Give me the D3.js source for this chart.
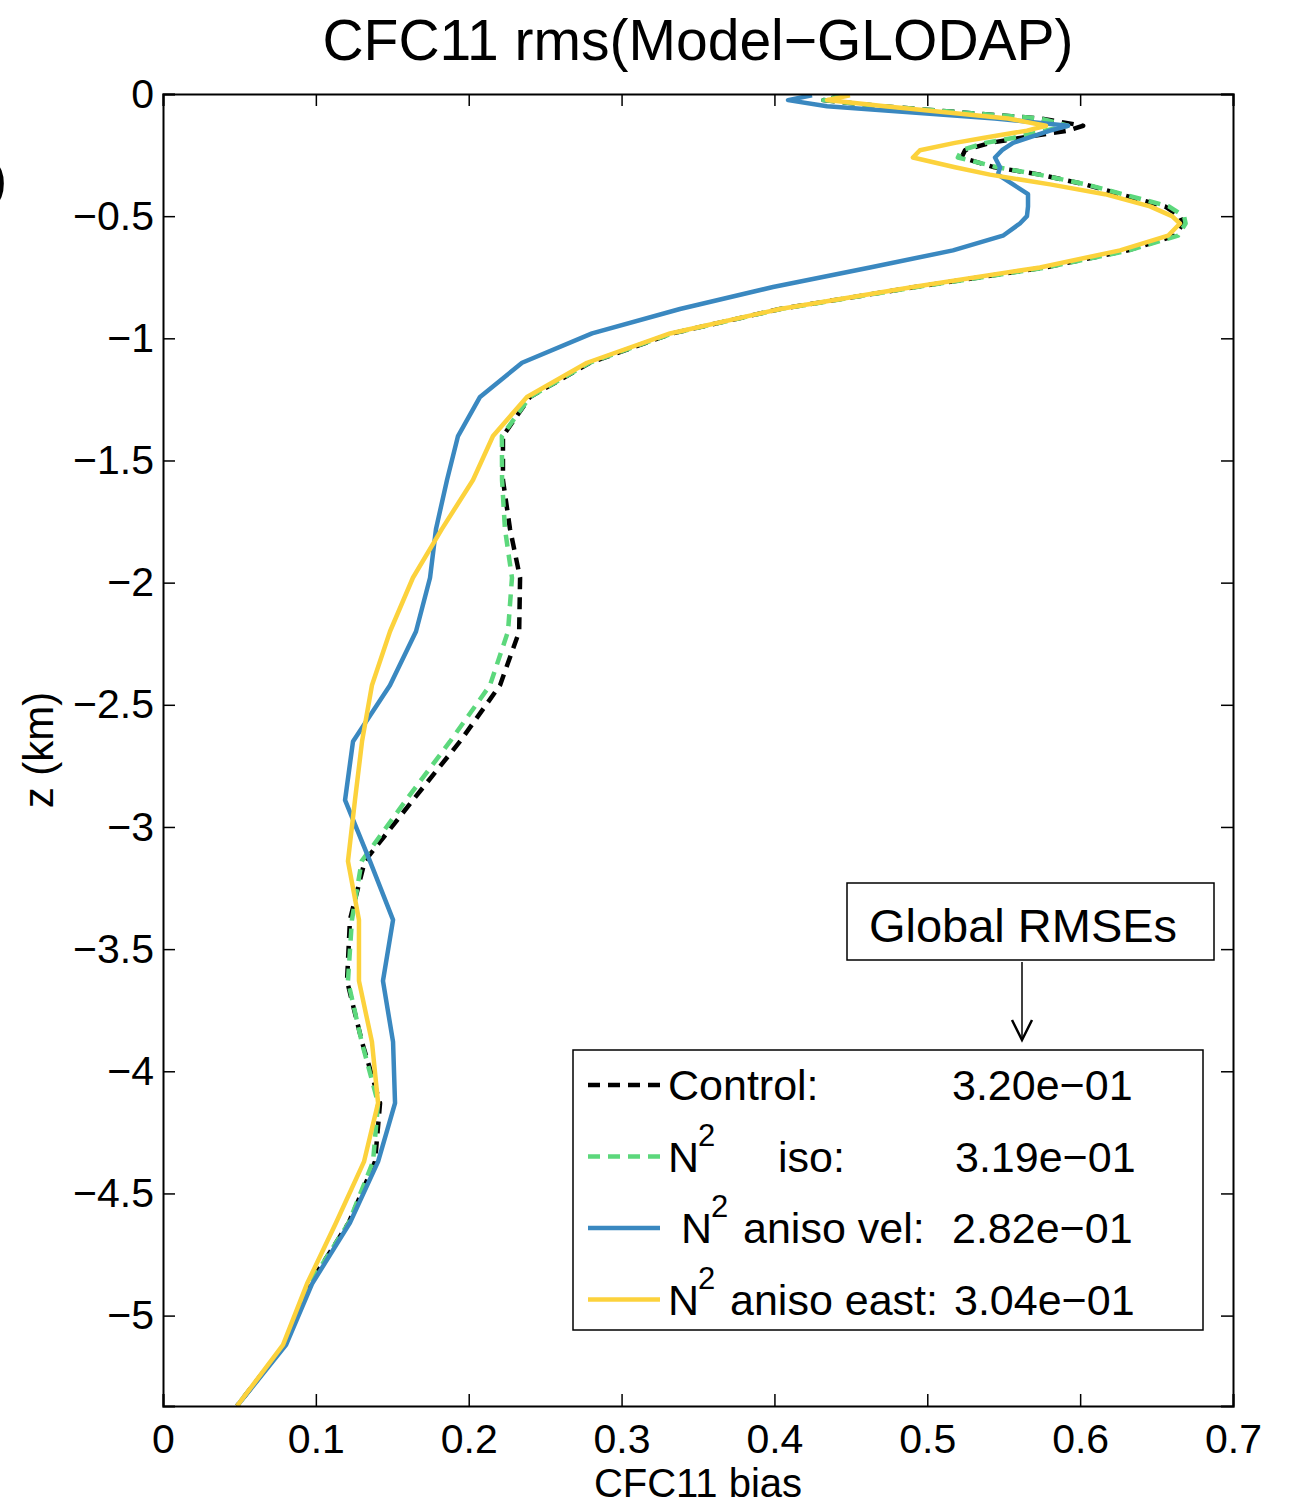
<!DOCTYPE html>
<html>
<head>
<meta charset="utf-8">
<script src="https://cdn.jsdelivr.net/npm/d3@7"></script>
<style>
  body { margin: 0; background: #fff; }
  text { font-family: "Liberation Sans", Arial, Helvetica, sans-serif; fill: #000; }
</style>
</head>
<body>
<svg id="chart" width="1296" height="1501"></svg>
<script>
// depth levels (km, positive down)
var depthKm = [0.005, 0.025, 0.05, 0.1, 0.13, 0.15, 0.18, 0.2, 0.23, 0.26, 0.3, 0.33, 0.37, 0.41, 0.46, 0.5,
  0.53, 0.58, 0.64, 0.71, 0.79, 0.88, 0.98, 1.1, 1.24, 1.4, 1.58, 1.78, 1.98, 2.2, 2.42, 2.65, 2.89,
  3.14, 3.38, 3.63, 3.88, 4.13, 4.37, 4.62, 4.87, 5.12, 5.37];

var control = [0.445, 0.432, 0.47, 0.5737, 0.602, 0.592, 0.5607, 0.541, 0.5247, 0.5224, 0.544, 0.5737,
  0.6032, 0.6261, 0.6555, 0.6653, 0.6673, 0.662, 0.6313, 0.577, 0.492, 0.4036, 0.333, 0.2793, 0.2401,
  0.2224, 0.2224, 0.227, 0.2336, 0.233, 0.2205, 0.1943, 0.1635, 0.132, 0.1223, 0.1204, 0.1302, 0.142,
  0.1387, 0.1215, 0.096, 0.0795, 0.0484];

var n2Iso = [0.445, 0.432, 0.47, 0.5737, 0.592, 0.577, 0.556, 0.538, 0.5224, 0.520, 0.546, 0.573,
  0.604, 0.628, 0.658, 0.668, 0.669, 0.664, 0.632, 0.578, 0.493, 0.404, 0.333, 0.279, 0.240,
  0.2217, 0.2218, 0.2237, 0.2283, 0.2257, 0.2139, 0.1878, 0.159, 0.130, 0.1236, 0.121, 0.130, 0.1407,
  0.1374, 0.1215, 0.096, 0.0795, 0.0484];

var n2AnisoVel = [0.4246, 0.4089, 0.4344, 0.5443, 0.5921, 0.5803, 0.5659, 0.5561, 0.5489, 0.5443, 0.5476,
  0.5462, 0.5561, 0.5659, 0.5659, 0.5652, 0.5606, 0.5495, 0.5168, 0.4625, 0.3991, 0.3382, 0.2807, 0.2349,
  0.2074, 0.1930, 0.1858, 0.1786, 0.1747, 0.1655, 0.1485, 0.1243, 0.1191, 0.1354, 0.1505, 0.1439, 0.1505,
  0.1518, 0.1407, 0.1223, 0.0975, 0.0805, 0.0484];

var n2AnisoEast = [0.4494, 0.4344, 0.4723, 0.5528, 0.5777, 0.5652, 0.5364, 0.5181, 0.4952, 0.4906, 0.5181,
  0.5410, 0.5803, 0.6162, 0.6457, 0.6601, 0.6653, 0.6575, 0.6261, 0.5737, 0.4906, 0.4036, 0.3317, 0.2774,
  0.2381, 0.2159, 0.2028, 0.1825, 0.1635, 0.1485, 0.1367, 0.1302, 0.1256, 0.1210, 0.1282, 0.1282, 0.1367,
  0.1407, 0.1315, 0.1132, 0.0942, 0.0785, 0.0484];

var xTicks = [0, 0.1, 0.2, 0.3, 0.4, 0.5, 0.6, 0.7];
var yTicks = [0, -0.5, -1, -1.5, -2, -2.5, -3, -3.5, -4, -4.5, -5];

var legendSup = ["", "2", "2", "2"];
var legendNames = ["Control:", "iso:", "aniso vel:", "aniso east:"];
var legendValues = ["3.20e\u221201", "3.19e\u221201", "2.82e\u221201", "3.04e\u221201"];

var series = [
  {values: control, color: "#000000", dash: "12,8"},
  {values: n2Iso, color: "#5cd87c", dash: "12,8"},
  {values: n2AnisoVel, color: "#3a88c0", dash: null},
  {values: n2AnisoEast, color: "#fcd23c", dash: null}
];

var margin = {top: 94, right: 63, bottom: 95, left: 163},
  width = 1296 - margin.left - margin.right,
  height = 1501 - margin.top - margin.bottom;

var svg = d3.select("#chart");
svg.append("rect").attr("width", 1296).attr("height", 1501).attr("fill", "#fff");

var g = svg.append("g").attr("transform", "translate(" + margin.left + "," + margin.top + ")");

var x = d3.scaleLinear().domain([0, 0.7]).range([0, width]);
var y = d3.scaleLinear().domain([-5.37, 0]).range([height, 0]);
var fmt = d3.format("~g");

g.append("clipPath").attr("id", "clip")
  .append("rect").attr("width", width).attr("height", height);

// curves
var line = d3.line()
  .x(function (d) { return x(d[0]); })
  .y(function (d) { return y(-d[1]); });

g.append("g").attr("clip-path", "url(#clip)")
  .selectAll("path")
  .data(series)
  .enter().append("path")
  .attr("d", function (s) { return line(s.values.map(function (v, i) { return [v, depthKm[i]]; })); })
  .attr("fill", "none")
  .attr("stroke", function (s) { return s.color; })
  .attr("stroke-width", 4.5)
  .attr("stroke-linejoin", "round")
  .attr("stroke-dasharray", function (s) { return s.dash; });

// axes, MATLAB style: ticks inside on all four sides
var tl = 12;
g.append("g").attr("transform", "translate(0," + height + ")")
  .call(d3.axisBottom(x).tickValues(xTicks).tickSize(-tl).tickPadding(18).tickFormat(fmt));
g.append("g")
  .call(d3.axisTop(x).tickValues(xTicks).tickSize(-tl).tickFormat(""));
g.append("g")
  .call(d3.axisLeft(y).tickValues(yTicks).tickSize(-tl).tickPadding(9).tickFormat(fmt));
g.append("g").attr("transform", "translate(" + width + ",0)")
  .call(d3.axisRight(y).tickValues(yTicks).tickSize(-tl).tickFormat(""));

g.selectAll(".domain").attr("stroke", "#000").attr("stroke-width", 2);
g.selectAll(".tick line").attr("stroke", "#000").attr("stroke-width", 1.5);
g.selectAll(".tick text").style("font-size", "41px").attr("fill", "#000");

// titles
svg.append("text").attr("x", 698).attr("y", 60).attr("text-anchor", "middle")
  .style("font-size", "57px").text("CFC11 rms(Model\u2212GLODAP)");
svg.append("text").attr("x", 698).attr("y", 1497).attr("text-anchor", "middle")
  .style("font-size", "40px").text("CFC11 bias");
svg.append("text").attr("transform", "translate(53,750) rotate(-90)").attr("text-anchor", "middle")
  .style("font-size", "42px").text("z (km)");
// panel label, cut off at the left edge
svg.append("text").attr("x", 7).attr("y", 197).attr("text-anchor", "end")
  .style("font-size", "52px").text("(b)");

// "Global RMSEs" note with arrow
svg.append("rect").attr("x", 847).attr("y", 883).attr("width", 367).attr("height", 77)
  .attr("fill", "#fff").attr("stroke", "#000").attr("stroke-width", 1.5);
svg.append("text").attr("x", 1023).attr("y", 942).attr("text-anchor", "middle")
  .style("font-size", "47px").text("Global RMSEs");
svg.append("line").attr("x1", 1022).attr("x2", 1022).attr("y1", 962).attr("y2", 1040)
  .attr("stroke", "#000").attr("stroke-width", 1.5);
svg.append("path").attr("d", "M1012,1020 L1022,1040 L1032,1020")
  .attr("fill", "none").attr("stroke", "#000").attr("stroke-width", 2.5);

// legend
var leg = svg.append("g");
leg.append("rect").attr("x", 573).attr("y", 1050).attr("width", 630).attr("height", 280)
  .attr("fill", "#fff").attr("stroke", "#000").attr("stroke-width", 1.5);

var nameX = [668, 778, 743, 730];
var nX = [668, 668, 681, 668];
var valX = [952, 955, 952, 954];

series.forEach(function (s, i) {
  var by = 1100 + i * 71.5;
  leg.append("line").attr("x1", 588).attr("x2", 660).attr("y1", by - 15).attr("y2", by - 15)
    .attr("stroke", s.color).attr("stroke-width", 4.5).attr("stroke-dasharray", s.dash);
  if (legendSup[i]) {
    leg.append("text").attr("x", nX[i]).attr("y", by).style("font-size", "43px").text("N");
    leg.append("text").attr("x", nX[i] + 30).attr("y", by - 26).style("font-size", "31px").text(legendSup[i]);
  }
  leg.append("text").attr("x", nameX[i]).attr("y", by).style("font-size", "43px").text(legendNames[i]);
  leg.append("text").attr("x", valX[i]).attr("y", by).style("font-size", "43px").text(legendValues[i]);
});
</script>
</body>
</html>
